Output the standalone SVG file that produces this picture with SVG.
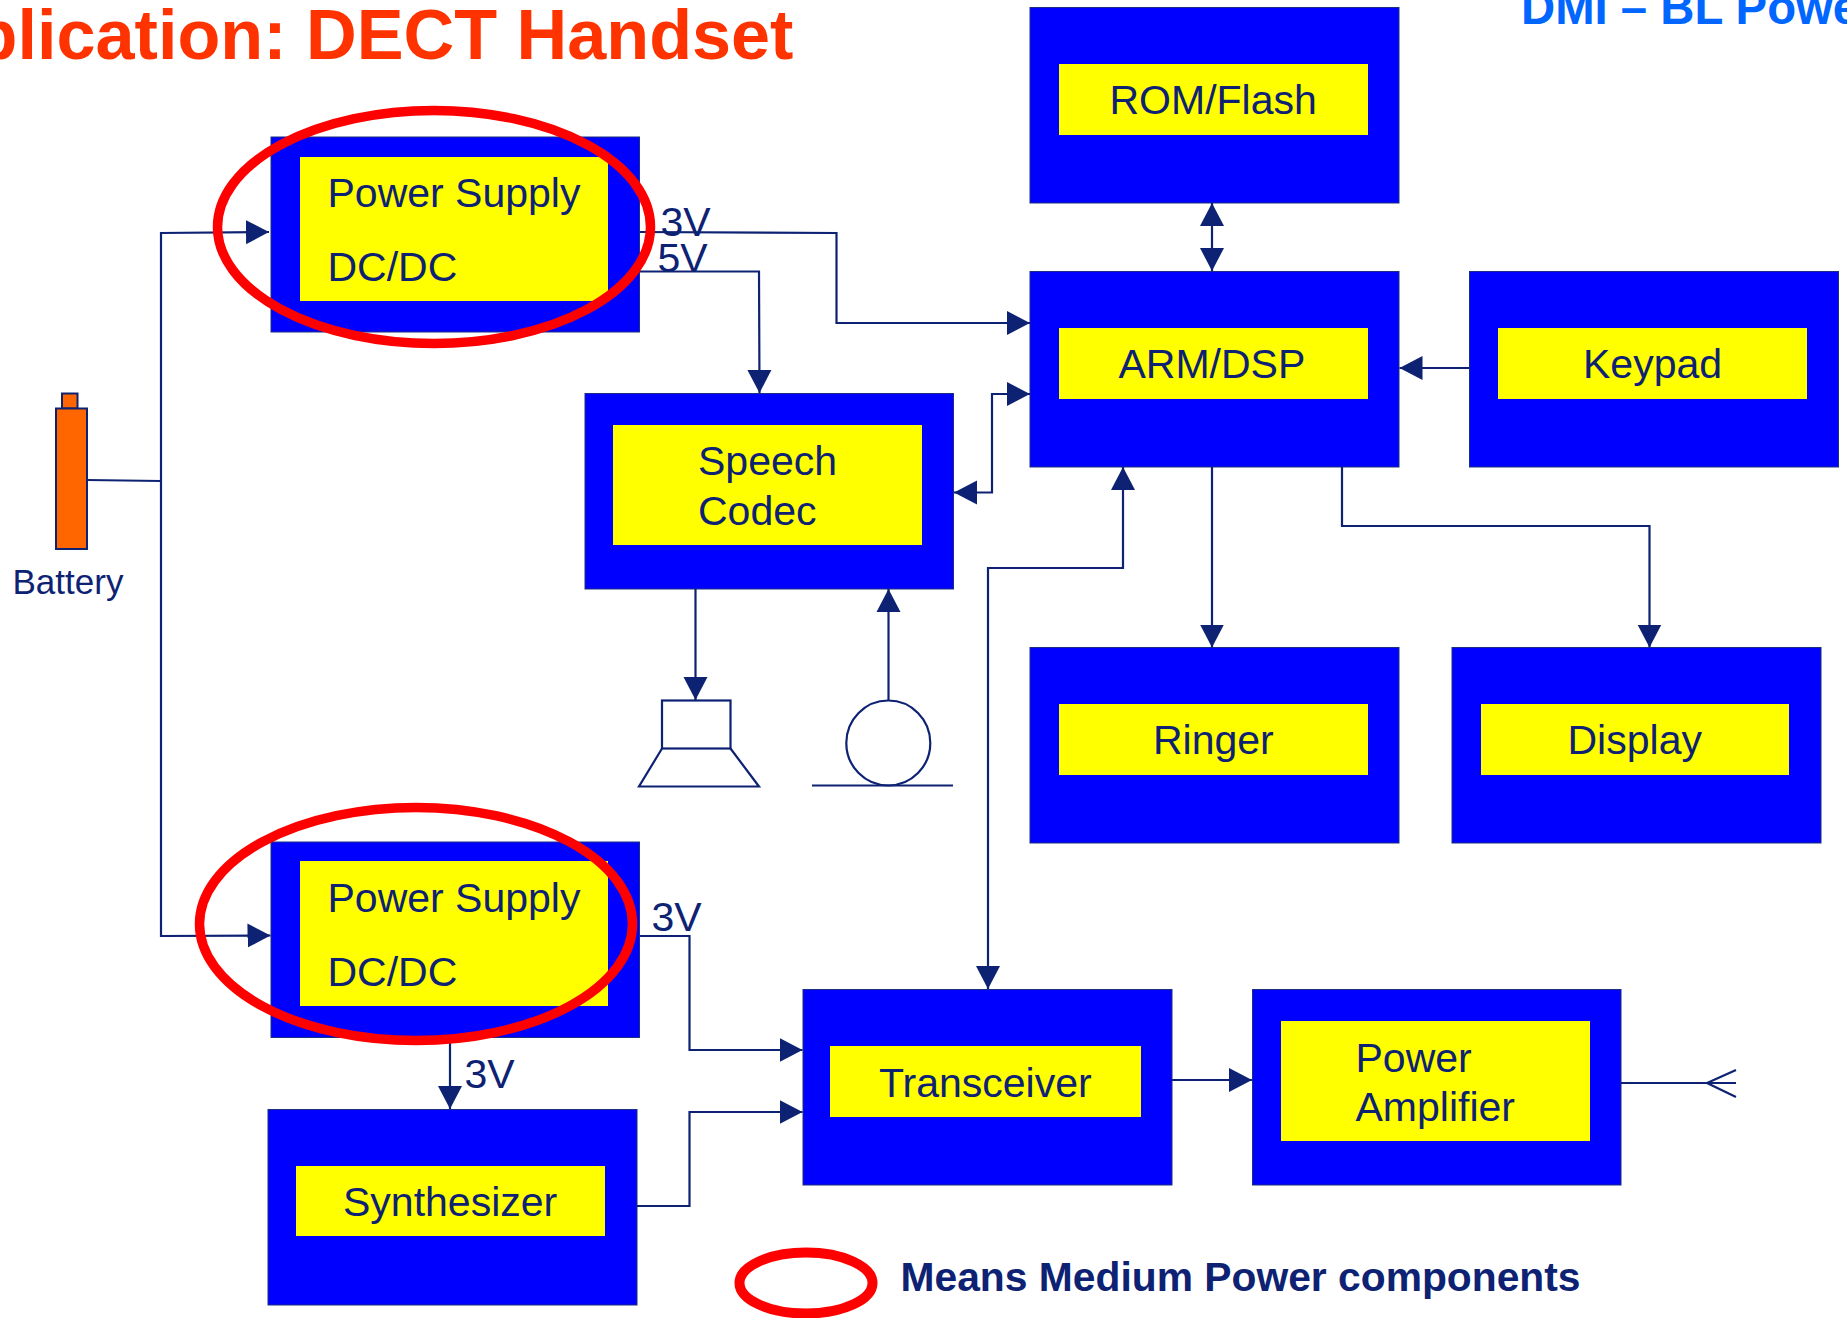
<svg xmlns="http://www.w3.org/2000/svg" width="1847" height="1318" viewBox="0 0 1847 1318">
<defs>
<marker id="arr" markerUnits="userSpaceOnUse" markerWidth="24" markerHeight="25" refX="23" refY="12.500" orient="auto-start-reverse"><path d="M0 0.500L23 12.500L0 24.500Z" fill="#0e2273"/></marker>
</defs>
<style>
text{font-family:"Liberation Sans",Arial,sans-serif;fill:#0e2273;font-size:41px}
.box{fill:#0000ff;stroke:#1a2f80;stroke-width:1}
.in{fill:#ffff00}
.c{fill:none;stroke:#0e2273;stroke-width:2.2}
.a{marker-end:url(#arr)}
.b{marker-start:url(#arr);marker-end:url(#arr)}
.ring{fill:none;stroke:#ff0000;stroke-width:9.500}
.sym{fill:none;stroke:#0e2273;stroke-width:2.2}
</style>
<rect width="1847" height="1318" fill="#ffffff"/>
<text x="793.500" y="59" text-anchor="end" style="font-size:70.200px;font-weight:700;fill:#ff3300">plication: DECT Handset</text>
<text x="1521" y="24" style="font-size:47.300px;font-weight:700;fill:#0066ff">DMI – BL Powe</text>

<g id="rom"><rect class="box" x="1030" y="7.500" width="369" height="195.500"/><rect class="in" x="1059" y="64" width="309" height="71"/><text x="1109.500" y="114.200">ROM/Flash</text></g>
<g id="arm"><rect class="box" x="1030" y="271.500" width="369" height="195.500"/><rect class="in" x="1059" y="328" width="309" height="71"/><text x="1118.500" y="378">ARM/DSP</text></g>
<g id="keypad"><rect class="box" x="1469.500" y="271.500" width="369" height="195.500"/><rect class="in" x="1498" y="328" width="309" height="71"/><text x="1583" y="378">Keypad</text></g>
<g id="ringer"><rect class="box" x="1030" y="647.500" width="369" height="195.500"/><rect class="in" x="1059" y="704" width="309" height="71"/><text x="1153" y="754">Ringer</text></g>
<g id="display"><rect class="box" x="1452" y="647.500" width="369" height="195.500"/><rect class="in" x="1481" y="704" width="308" height="71"/><text x="1567.500" y="754">Display</text></g>
<g id="speech"><rect class="box" x="585" y="393.500" width="368.500" height="195.500"/><rect class="in" x="613" y="425" width="309" height="120"/><text x="698" y="475">Speech</text><text x="698" y="525">Codec</text></g>
<g id="ps1"><rect class="box" x="271" y="137" width="368.500" height="195"/><rect class="in" x="300" y="157" width="308" height="144"/><text x="327.500" y="207">Power Supply</text><text x="327.500" y="281">DC/DC</text></g>
<g id="ps2"><rect class="box" x="271" y="842" width="368.500" height="195.500"/><rect class="in" x="300" y="861" width="308" height="145"/><text x="327.500" y="912">Power Supply</text><text x="327.500" y="986">DC/DC</text></g>
<g id="synth"><rect class="box" x="268" y="1109.500" width="369" height="195.500"/><rect class="in" x="296" y="1166" width="309" height="70"/><text x="343" y="1216">Synthesizer</text></g>
<g id="transceiver"><rect class="box" x="803" y="989.500" width="369" height="195.500"/><rect class="in" x="830" y="1046" width="311" height="71"/><text x="879" y="1096.500">Transceiver</text></g>
<g id="pa"><rect class="box" x="1252.500" y="989.500" width="368.500" height="195.500"/><rect class="in" x="1281" y="1021" width="309" height="120"/><text x="1355.500" y="1072">Power</text><text x="1355.500" y="1121">Amplifier</text></g>

<g id="battery"><rect x="62" y="393.500" width="15.500" height="15" fill="#ff6600" stroke="#0e2273" stroke-width="2"/><rect x="56" y="408.500" width="31" height="140.500" fill="#ff6600" stroke="#0e2273" stroke-width="2"/><text x="12.500" y="594" style="font-size:35px">Battery</text></g>
<g id="speaker"><rect class="sym" x="662" y="700.500" width="68.500" height="48"/><path class="sym" d="M662 748.500L639 786.500H759L730.500 748.500"/></g>
<g id="mic"><ellipse class="sym" cx="888.300" cy="743" rx="42" ry="42.500"/><path class="sym" d="M812 785.500H953"/></g>
<g id="antenna"><path class="sym" d="M1621 1083H1736M1736 1070L1707 1083L1736 1097"/></g>

<g id="connectors">
<path class="c" d="M87 480L161 481"/>
<path class="c a" d="M161 481V233L269 232"/>
<path class="c a" d="M161 481V936L270.500 935.500"/>
<path class="c a" d="M640 232L836.500 233V323H1030"/>
<path class="c a" d="M640 271.500H759L759.500 393"/>
<path class="c b" d="M1212 203V271"/>
<path class="c a" d="M1469.500 368H1399.500"/>
<path class="c b" d="M954 492.500H992V394H1030"/>
<path class="c b" d="M1123 467V568H988V989"/>
<path class="c a" d="M1212 467V647.500"/>
<path class="c a" d="M1342 467V526H1649.500V647.500"/>
<path class="c a" d="M695.500 589V700"/>
<path class="c a" d="M888.500 700V589"/>
<path class="c a" d="M640 936H689.500V1050H802.500"/>
<path class="c a" d="M450 1037V1109"/>
<path class="c a" d="M637 1206H689.500V1112H802.500"/>
<path class="c a" d="M1172 1080H1252"/>
</g>

<g id="labels">
<text x="660.500" y="235.500">3V</text>
<text x="657.500" y="271.500">5V</text>
<text x="651.500" y="930.500">3V</text>
<text x="464.500" y="1088">3V</text>
<text x="900.500" y="1291" style="font-size:40.800px;font-weight:700">Means Medium Power components</text>
</g>
<g id="highlights">
<ellipse class="ring" cx="434" cy="227" rx="216.500" ry="116.500"/>
<ellipse class="ring" cx="416" cy="924" rx="216.500" ry="116.500"/>
<ellipse class="ring" cx="806" cy="1283" rx="66.500" ry="30.500" style="stroke-width:10"/>
</g>
</svg>
